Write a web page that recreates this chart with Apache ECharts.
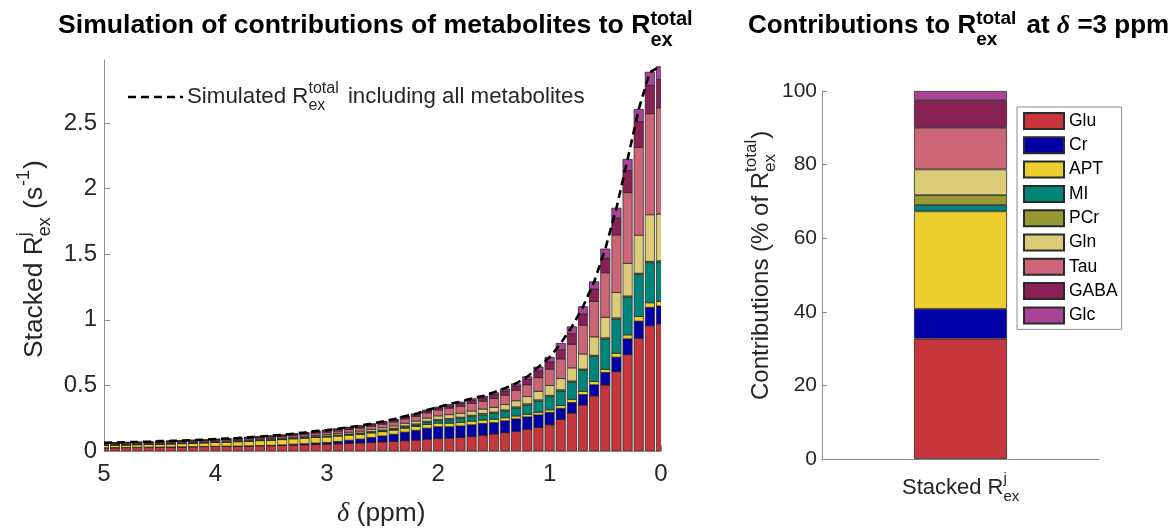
<!DOCTYPE html>
<html><head><meta charset="utf-8">
<script src="https://cdn.jsdelivr.net/npm/echarts@6/dist/echarts.min.js"></script>
<style>html,body{margin:0;padding:0;background:#fff}#c{width:1176px;height:532px}</style>
</head><body><div id="c"></div>
<script>
// ---------------- data ----------------
const deltas = [5.0,4.9,4.8,4.7,4.6,4.5,4.4,4.3,4.2,4.1,
                4.0,3.9,3.8,3.7,3.6,3.5,3.4,3.3,3.2,3.1,
                3.0,2.9,2.8,2.7,2.6,2.5,2.4,2.3,2.2,2.1,
                2.0,1.9,1.8,1.7,1.6,1.5,1.4,1.3,1.2,1.1,
                1.0,0.9,0.8,0.7,0.6,0.5,0.4,0.3,0.2,0.1,0.0];
const glu  = [.024,.025,.026,.027,.028,.029,.030,.031,.032,.033, .034,.035,.036,.037,.039,.040,.042,.045,.047,.050, .052,.055,.058,.061,.065,.069,.073,.078,.083,.089, .095,.098,.103,.110,.120,.130,.140,.150,.165,.180, .200,.240,.290,.350,.420,.503,.605,.735,.860,.955, .970];
const cr   = [.001,.001,.001,.001,.001,.001,.001,.001,.001,.002, .002,.002,.002,.003,.003,.004,.005,.007,.009,.011, .013,.018,.024,.030,.038,.046,.055,.066,.075,.085, .090,.087,.088,.090,.090,.086,.090,.095,.095,.095, .094,.085,.080,.080,.085,.095,.110,.120,.130,.140, .135];
const apt  = [.018,.019,.019,.020,.021,.022,.023,.024,.026,.027, .029,.031,.033,.035,.037,.039,.040,.041,.042,.042, .042,.041,.039,.037,.035,.033,.031,.030,.029,.028, .027,.027,.027,.027,.026,.026,.024,.022,.020,.020, .020,.022,.024,.025,.025,.025,.030,.030,.035,.035, .035];
const mi   = [.001,.001,.001,.001,.001,.001,.001,.001,.001,.001, .001,.001,.001,.001,.001,.001,.002,.002,.002,.003, .003,.003,.004,.004,.005,.006,.008,.010,.012,.016, .020,.026,.030,.035,.040,.045,.050,.060,.070,.085, .100,.110,.130,.160,.190,.230,.260,.287,.320,.305, .300];
const pcr  = [.002,.002,.002,.002,.002,.002,.002,.002,.002,.002, .002,.002,.003,.003,.003,.003,.003,.003,.004,.004, .004,.005,.005,.006,.006,.007,.007,.008,.008,.009, .009,.010,.010,.010,.010,.010,.010,.010,.010,.010, .010,.010,.010,.010,.010,.010,.010,.010,.010,.010, .010];
const gln  = [.004,.004,.004,.004,.004,.005,.005,.005,.005,.005, .005,.006,.006,.006,.006,.007,.007,.008,.009,.010, .011,.012,.013,.014,.015,.017,.018,.020,.021,.024, .027,.029,.030,.033,.034,.036,.040,.046,.055,.065, .075,.085,.100,.115,.140,.156,.193,.248,.290,.356, .356];
const tau  = [.007,.007,.008,.008,.008,.008,.008,.009,.009,.009, .010,.010,.010,.011,.011,.012,.013,.014,.015,.017, .018,.019,.021,.023,.025,.027,.030,.033,.036,.040, .045,.050,.054,.058,.060,.067,.072,.080,.090,.105, .125,.150,.180,.220,.270,.340,.439,.539,.670,.770, .810];
const gaba = [.004,.004,.004,.004,.004,.005,.005,.005,.005,.005, .006,.006,.006,.006,.007,.007,.008,.009,.010,.011, .012,.012,.013,.014,.014,.015,.015,.015,.014,.015, .015,.018,.021,.025,.026,.030,.030,.032,.040,.050, .055,.070,.080,.085,.095,.110,.127,.168,.195,.216, .216];
const glc  = [.002,.002,.002,.002,.002,.002,.002,.002,.002,.002, .002,.002,.002,.003,.003,.003,.003,.003,.003,.004, .004,.004,.004,.004,.005,.005,.005,.005,.005,.006, .006,.009,.010,.011,.012,.014,.017,.017,.021,.030, .035,.048,.053,.055,.055,.071,.077,.086,.094,.100, .097];
const simulatedTotal = [.063,.065,.067,.069,.071,.075,.077,.080,.083,.086, .091,.095,.099,.105,.110,.116,.123,.132,.141,.152, .159,.169,.181,.193,.208,.225,.242,.265,.283,.312, .333,.358,.376,.400,.419,.447,.478,.516,.566,.640, .714,.820,.947,1.100,1.290,1.540,1.851,2.223,2.604,2.887, 2.935];
const metaboliteNames = ['Glu','Cr','APT','MI','PCr','Gln','Tau','GABA','Glc'];
const contributionsAt3ppm = [32.7, 8.1, 26.5, 1.7, 2.7, 7.0, 11.3, 7.5, 2.5]; // % of total
const rightCategory = ['Stacked'];

// ---------------- styling ----------------
const seriesData = [glu, cr, apt, mi, pcr, gln, tau, gaba, glc];
const colors = ['#c6363c','#0000a6','#eecf30','#00857a','#999933','#ddcc77','#cc6677','#882255','#aa4499'];
const FF = '"Liberation Sans", Arial, sans-serif';
const TXT = '#262626';
const AX = '#8c8c8c';
const BAR_W = 9.3;

const mctx = document.createElement('canvas').getContext('2d');
function fontStr(p){ return (p.style||'normal')+' '+(p.weight||'normal')+' '+p.size+'px '+(p.family||FF); }
function tw(t, f){ mctx.font = f; return mctx.measureText(t).width; }
function txtEl(x, y, t, p, color){
  return {type:'text', x:x, y:y, silent:true, style:{text:t, font:fontStr(p), fontSize:p.size, fontWeight:p.weight||'normal', fontStyle:p.style||'normal', fontFamily:p.family||FF, fill:color, align:'left', verticalAlign:'middle'}};
}
function richGroup(x, y, rotation, pieces, color){
  const children = []; let cx = 0;
  pieces.forEach(p => {
    if (p.t !== undefined){
      children.push(txtEl(cx, p.dy||0, p.t, p, color));
      cx += tw(p.t, fontStr(p)) + (p.pad||0);
    } else {
      let w = 0;
      if (p.sup){ children.push(txtEl(cx, p.supDy, p.sup, p, color)); w = Math.max(w, tw(p.sup, fontStr(p))); }
      if (p.sub){ children.push(txtEl(cx, p.subDy, p.sub, p, color)); w = Math.max(w, tw(p.sub, fontStr(p))); }
      cx += w + (p.pad||0);
    }
  });
  return {type:'group', x:x, y:y, rotation:rotation, silent:true, children:children};
}

const deltaLabels = deltas.map(d => String(d));
const series = [];
// left chart: stacked segments as [category index, base, value]; clipped exactly at the plot area
const running = deltas.map(() => 0);
metaboliteNames.forEach((n, i) => {
  const rows = deltas.map((d, k) => { const r = [k, running[k], seriesData[i][k]]; running[k] += seriesData[i][k]; return r; });
  const col = colors[i];
  series.push({
    type:'custom', name:'left ' + n, xAxisIndex:0, yAxisIndex:0, clip:true,
    data: rows, encode:{x:0, y:2},
    renderItem:(params, api) => {
      const k = api.value(0), b = api.value(1), v = api.value(2);
      const p0 = api.coord([k, b]), p1 = api.coord([k, b + v]);
      return {type:'rect', shape:{x:p0[0] - BAR_W/2, y:p1[1], width:BAR_W, height:p0[1] - p1[1]},
              style:{fill:col, stroke:'#1e1e1e', lineWidth:0.7}};
    }
  });
});
metaboliteNames.forEach((n, i) => {
  series.push({
    type:'bar', name:n, xAxisIndex:1, yAxisIndex:1, stack:'right', barWidth:93,
    data:[contributionsAt3ppm[i]],
    itemStyle:{color:colors[i], borderColor:'#2a2a2a', borderWidth:0.8},
    emphasis:{disabled:true}
  });
});
series.push({
  type:'line', name:'Simulated', xAxisIndex:0, yAxisIndex:0, z:5, clip:true,
  data: simulatedTotal,
  symbol:'none', lineStyle:{color:'#000', width:2.6, type:[8,5]}
});

const graphics = [
  richGroup(58, 26, 0, [
    {t:'Simulation of contributions of metabolites to R', size:26.6, weight:'bold'},
    {sup:'total', sub:'ex', size:20, weight:'bold', supDy:-7, subDy:14}
  ], '#000'),
  richGroup(748, 26, 0, [
    {t:'Contributions to R', size:26, weight:'bold'},
    {sup:'total', sub:'ex', size:19, weight:'bold', supDy:-7, subDy:14, pad:3},
    {t:' at ', size:26, weight:'bold'},
    {t:'δ', size:26, weight:'bold', style:'italic', family:'"Liberation Serif", serif'},
    {t:' =3 ppm', size:26, weight:'bold'}
  ], '#000'),
  richGroup(35, 358, Math.PI/2, [
    {t:'Stacked R', size:26.4},
    {sup:'j', sub:'ex', size:18, supDy:-11, subDy:10, pad:1},
    {t:' (s', size:26.4, pad:1},
    {sup:'-1', size:18, supDy:-11, pad:1},
    {t:')', size:26.4}
  ], TXT),
  richGroup(337, 514, 0, [
    {t:'δ', size:26.4, style:'italic', family:'"Liberation Serif", serif'},
    {t:' (ppm)', size:26.4}
  ], TXT),
  {type:'line', silent:true, shape:{x1:128, y1:97, x2:183, y2:97}, style:{stroke:'#000', lineWidth:2.6, lineDash:[8,5]}},
  richGroup(187, 97, 0, [
    {t:'Simulated R', size:22.3},
    {sup:'total', sub:'ex', size:16, supDy:-8, subDy:9, pad:3},
    {t:' including all metabolites', size:22.3}
  ], TXT),
  richGroup(761, 400, Math.PI/2, [
    {t:'Contributions (% of R', size:24},
    {sup:'total', sub:'ex', size:17, supDy:-10, subDy:9, pad:1},
    {t:')', size:24}
  ], TXT),
  richGroup(902, 488, 0, [
    {t:'Stacked R', size:22},
    {sup:'j', sub:'ex', size:15, supDy:-9, subDy:9}
  ], TXT)
];

const chart = echarts.init(document.getElementById('c'), null, {renderer:'canvas'});
chart.setOption({
  animation:false,
  backgroundColor:'#fff',
  grid:[{left:104, top:60, width:557, height:391}, {left:822, top:91, width:277, height:368}],
  xAxis:[
    {type:'category', gridIndex:0, data:deltaLabels, boundaryGap:false,
     axisLine:{show:true, onZero:false, lineStyle:{color:AX, width:1}},
     axisTick:{show:true, inside:true, length:6, interval:9, lineStyle:{color:AX}},
     axisLabel:{fontSize:24, color:TXT, fontFamily:FF, margin:11, interval:9,
                formatter:v => String(Number(v))},
     splitLine:{show:false}},
    {type:'category', gridIndex:1, data:rightCategory,
     axisLine:{show:true, lineStyle:{color:AX, width:1}},
     axisTick:{show:false}, axisLabel:{show:false}}
  ],
  yAxis:[
    {type:'value', gridIndex:0, min:0, max:2.98, interval:0.5,
     axisLine:{show:true, onZero:false, lineStyle:{color:AX, width:1}},
     axisTick:{show:true, inside:true, length:6, lineStyle:{color:AX}},
     axisLabel:{fontSize:24, color:TXT, fontFamily:FF, margin:7, showMaxLabel:false},
     splitLine:{show:false}},
    {type:'value', gridIndex:1, min:0, max:100, interval:20,
     axisLine:{show:true, onZero:false, lineStyle:{color:AX, width:1}},
     axisTick:{show:true, inside:true, length:5, lineStyle:{color:AX}},
     axisLabel:{fontSize:21, color:TXT, fontFamily:FF, margin:5},
     splitLine:{show:false}}
  ],
  legend:{
    data:metaboliteNames, orient:'vertical', left:1017, top:107,
    itemWidth:40, itemHeight:16, itemGap:6.3, padding:[5,4,5,6],
    borderColor:'#8c8c8c', borderWidth:1, backgroundColor:'#fff',
    selectedMode:false, icon:'rect',
    textStyle:{fontSize:17.5, color:'#000', fontFamily:FF}
  },
  graphic:graphics,
  series:series
});
</script></body></html>
